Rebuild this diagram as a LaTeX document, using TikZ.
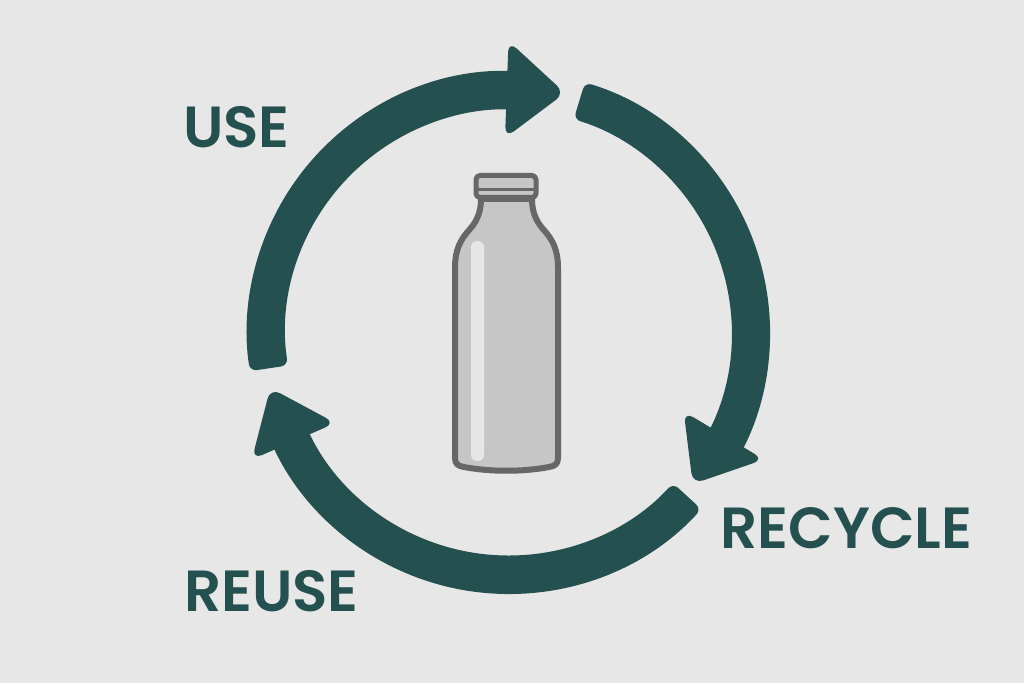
\documentclass[tikz,border=0pt]{standalone}
\usepackage{fontspec}
\setmainfont[BoldFont={Poppins SemiBold}]{Poppins}
\definecolor{bgc}{HTML}{E7E7E7}
\definecolor{loopc}{HTML}{24514F}
\definecolor{glassc}{HTML}{C6C6C6}
\definecolor{rimc}{HTML}{676767}
\definecolor{shinec}{HTML}{E6E6E6}
\tikzset{
  shaft/.style={fill=loopc,rounded corners=7pt},
  headtip/.style={fill=loopc,rounded corners=11pt},
  word/.style={text=loopc,font=\fontsize{58}{58}\selectfont\bfseries,inner sep=0pt,anchor=center},
  glass/.style={draw=rimc,fill=glassc,line width=6pt,line join=round}
}
\begin{document}
\begin{tikzpicture}[x=1pt,y=1pt]
\useasboundingbox (0,0) rectangle (1024,683);
\fill[bgc] (0,0) rectangle (1024,683);
% arc shafts, about the loop centre
\begin{scope}[shift={(508.5,350.5)}]
  \fill[shaft] (188.5:223) arc[start angle=188.5,end angle=88,radius=223]
     -- (88:261.5) arc[start angle=88,end angle=188.5,radius=261.5] -- cycle;
  \fill[shaft] (73:261.5) arc[start angle=73,end angle=-30,radius=261.5]
     -- (-30:223) arc[start angle=-30,end angle=73,radius=223] -- cycle;
  \fill[shaft] (-42.5:261.5) arc[start angle=-42.5,end angle=-156,radius=261.5]
     -- (-156:223) arc[start angle=-156,end angle=-42.5,radius=223] -- cycle;
\end{scope}
% everything else in image coordinates
\begin{scope}[yshift=683pt,y=-1pt]
  \fill[headtip] (508.5,41) -- (565,93) -- (505,138) -- cycle;
  \fill[headtip] (683.7,411.5) -- (764,459.5) -- (692.7,484) -- cycle;
  \fill[headtip] (270.3,388) -- (335.5,423) -- (251.8,459.5) -- cycle;
  % bottle
  \draw[glass] (481,199) .. controls (481,210) and (478,220) .. (470,229)
     .. controls (460,240) and (455,250) .. (455,268) -- (455,458)
     .. controls (455,464) and (458,466) .. (464,467)
     .. controls (490,472) and (523,472) .. (549,467)
     .. controls (555,466) and (558,464) .. (558,458) -- (558,268)
     .. controls (558,250) and (553,240) .. (543,229)
     .. controls (535,220) and (532,210) .. (532,199) -- cycle;
  \draw[glass,line width=5pt,rounded corners=4pt] (476,175.5) rectangle (536,197.5);
  \draw[draw=rimc,line width=3.5pt] (476,189.5) -- (536,189.5);
  \fill[shinec,rounded corners=6pt] (471,241) rectangle (484,461);
  \node[word] (use) at (236.5,127) {USE};
  \node[word] (recycle) at (846.5,528.5) {RECYCLE};
  \node[word] (reuse) at (271.5,591) {REUSE};
\end{scope}
\end{tikzpicture}
\end{document}
